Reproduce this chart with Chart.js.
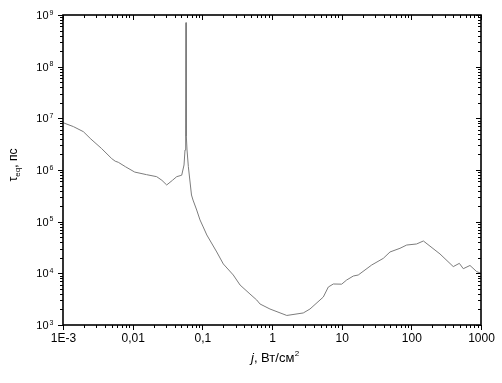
<!DOCTYPE html>
<html>
<head>
<meta charset="utf-8">
<script src="https://cdn.jsdelivr.net/npm/chart.js@4.4.1/dist/chart.umd.min.js"></script>
<style>
  html, body { margin: 0; padding: 0; background: #fff; }
  #wrap { width: 502px; height: 383px; position: relative; }
</style>
</head>
<body>
<div id="wrap"><canvas id="c" width="502" height="383"></canvas></div>
<script>
// ---- data ----
const jValues = [
  0.001, 0.00141, 0.00196, 0.00251, 0.00355, 0.00501, 0.00562, 0.00622, 0.00794,
  0.0107, 0.0158, 0.0221, 0.0263, 0.0308, 0.0372, 0.0429, 0.0479, 0.0506, 0.0546,
  0.0564, 0.0577, 0.0583, 0.0589, 0.0603, 0.0630, 0.0699, 0.0735, 0.0830, 0.0926,
  0.103, 0.116, 0.161, 0.200, 0.278, 0.348, 0.483, 0.603, 0.673, 0.935,
  1.63, 2.81, 3.51, 5.45, 6.43, 7.59, 10.0, 11.8, 14.7, 17.3,
  27.0, 39.6, 49.4, 68.7, 85.7, 119, 149, 258, 400, 489, 557, 695, 867, 1000
];
const tauValues = [
  8.24e6, 6.92e6, 5.52e6, 3.98e6, 2.63e6, 1.66e6, 1.48e6, 1.41e6, 1.15e6,
  9.12e5, 8.13e5, 7.43e5, 6.31e5, 5.13e5, 6.31e5, 7.43e5, 7.76e5, 7.94e5, 1.25e6,
  2.44e6, 4.55e6, 7.10e8, 4.55e6, 2.44e6, 1.16e6, 3.28e5, 2.62e5, 1.68e5, 1.08e5,
  7.89e4, 5.52e4, 2.59e4, 1.52e4, 9.29e3, 5.94e3, 3.98e3, 3.05e3, 2.55e3, 2.04e3,
  1.53e3, 1.71e3, 2.04e3, 3.48e3, 5.43e3, 6.22e3, 6.17e3, 7.43e3, 8.87e3, 9.29e3,
  1.45e4, 1.95e4, 2.59e4, 3.05e4, 3.53e4, 3.70e4, 4.23e4, 2.37e4, 1.35e4, 1.56e4, 1.23e4, 1.42e4, 1.08e4, 1.0e4
];
const xTickValues = [0.001, 0.01, 0.1, 1, 10, 100, 1000];
const xTickLabels = ['1E-3', '0,01', '0,1', '1', '10', '100', '1000'];
const yTickValues = [1e3, 1e4, 1e5, 1e6, 1e7, 1e8, 1e9];
const yTickExponents = ['3', '4', '5', '6', '7', '8', '9'];
const xTitleParts = ['j', ', Вт/см', '2'];
const yTitleParts = ['τ', 'eq', ', пс'];

const points = jValues.map((j, i) => ({ x: j, y: tauValues[i] }));
const FONT = '"Liberation Sans", Arial, sans-serif';

const axesPlugin = {
  id: 'axesPlugin',
  afterDraw(chart) {
    const { ctx, chartArea: a, scales } = chart;
    const xs = scales.x, ys = scales.y;
    ctx.save();
    // ticks
    ctx.strokeStyle = '#000';
    ctx.lineWidth = 1;
    const drawX = (v, L) => {
      const px = Math.round(xs.getPixelForValue(v)) + 0.5;
      ctx.beginPath();
      ctx.moveTo(px, a.bottom); ctx.lineTo(px, a.bottom + L);
      ctx.moveTo(px, a.top); ctx.lineTo(px, a.top + L);
      ctx.stroke();
    };
    const drawY = (v, L) => {
      const py = Math.round(ys.getPixelForValue(v)) + 0.5;
      ctx.beginPath();
      ctx.moveTo(a.left, py); ctx.lineTo(a.left - L, py);
      ctx.moveTo(a.right, py); ctx.lineTo(a.right - L, py);
      ctx.stroke();
    };
    for (let i = 0; i < xTickValues.length; i++) {
      drawX(xTickValues[i], 5);
      if (i < xTickValues.length - 1) for (let m = 2; m < 10; m++) drawX(xTickValues[i] * m, 3);
    }
    for (let i = 0; i < yTickValues.length; i++) {
      drawY(yTickValues[i], 5);
      if (i < yTickValues.length - 1) for (let m = 2; m < 10; m++) drawY(yTickValues[i] * m, 3);
    }
    // frame
    ctx.lineWidth = 1.6;
    ctx.strokeRect(a.left, a.top, a.right - a.left, a.bottom - a.top);

    // x tick labels
    ctx.fillStyle = '#000';
    ctx.font = '12px ' + FONT;
    ctx.textAlign = 'center';
    ctx.textBaseline = 'alphabetic';
    xTickValues.forEach((v, i) => {
      ctx.fillText(xTickLabels[i], xs.getPixelForValue(v) + 0.5, a.bottom + 17);
    });
    // y tick labels 10^n
    yTickValues.forEach((v, i) => {
      const py = ys.getPixelForValue(v);
      ctx.font = '11px ' + FONT;
      ctx.textAlign = 'right';
      ctx.fillText('10', a.left - 14.5, py + 4);
      ctx.font = '7px ' + FONT;
      ctx.textAlign = 'left';
      ctx.fillText(yTickExponents[i], a.left - 13.5, py - 0.5);
    });

    // x title
    const xt = 362;
    ctx.font = 'italic 13px ' + FONT;
    const w0 = ctx.measureText(xTitleParts[0]).width;
    ctx.font = '13px ' + FONT;
    const w1 = ctx.measureText(xTitleParts[1]).width;
    ctx.font = '8px ' + FONT;
    const w2 = ctx.measureText(xTitleParts[2]).width;
    let sx = 251;
    ctx.textAlign = 'left';
    ctx.font = 'italic 13px ' + FONT;
    ctx.fillText(xTitleParts[0], sx, xt); sx += w0;
    ctx.font = '13px ' + FONT;
    ctx.fillText(xTitleParts[1], sx, xt); sx += w1 + 0.5;
    ctx.font = '8px ' + FONT;
    ctx.fillText(xTitleParts[2], sx, xt - 6);

    // y title (rotated)
    ctx.save();
    ctx.translate(17, 165);
    ctx.rotate(-Math.PI / 2);
    ctx.font = '12px ' + FONT;
    const t0 = ctx.measureText(yTitleParts[0]).width;
    ctx.font = '8px ' + FONT;
    const t1 = ctx.measureText(yTitleParts[1]).width;
    ctx.font = '12px ' + FONT;
    const t2 = ctx.measureText(yTitleParts[2]).width;
    let tx = -(t0 + t1 + t2) / 2;
    ctx.textAlign = 'left';
    ctx.font = '12px ' + FONT;
    ctx.fillText(yTitleParts[0], tx, 0); tx += t0;
    ctx.font = '8px ' + FONT;
    ctx.fillText(yTitleParts[1], tx, 3); tx += t1;
    ctx.font = '12px ' + FONT;
    ctx.fillText(yTitleParts[2], tx, 0);
    ctx.restore();

    ctx.restore();
  }
};

new Chart(document.getElementById('c'), {
  type: 'scatter',
  data: {
    datasets: [{
      data: points,
      showLine: true,
      borderColor: '#7c7c7c',
      borderWidth: 1,
      pointRadius: 0,
      tension: 0,
      fill: false
    }]
  },
  options: {
    responsive: false,
    animation: false,
    events: [],
    layout: { padding: { top: 15, right: 21, left: 0, bottom: 0 } },
    plugins: { legend: { display: false }, tooltip: { enabled: false } },
    scales: {
      x: {
        type: 'logarithmic', min: 0.001, max: 1000,
        ticks: { display: false },
        grid: { display: false },
        border: { display: false },
        afterFit: s => { s.height = 58; }
      },
      y: {
        type: 'logarithmic', min: 1e3, max: 1e9,
        ticks: { display: false },
        grid: { display: false },
        border: { display: false },
        afterFit: s => { s.width = 63; }
      }
    }
  },
  plugins: [axesPlugin]
});
</script>
</body>
</html>
